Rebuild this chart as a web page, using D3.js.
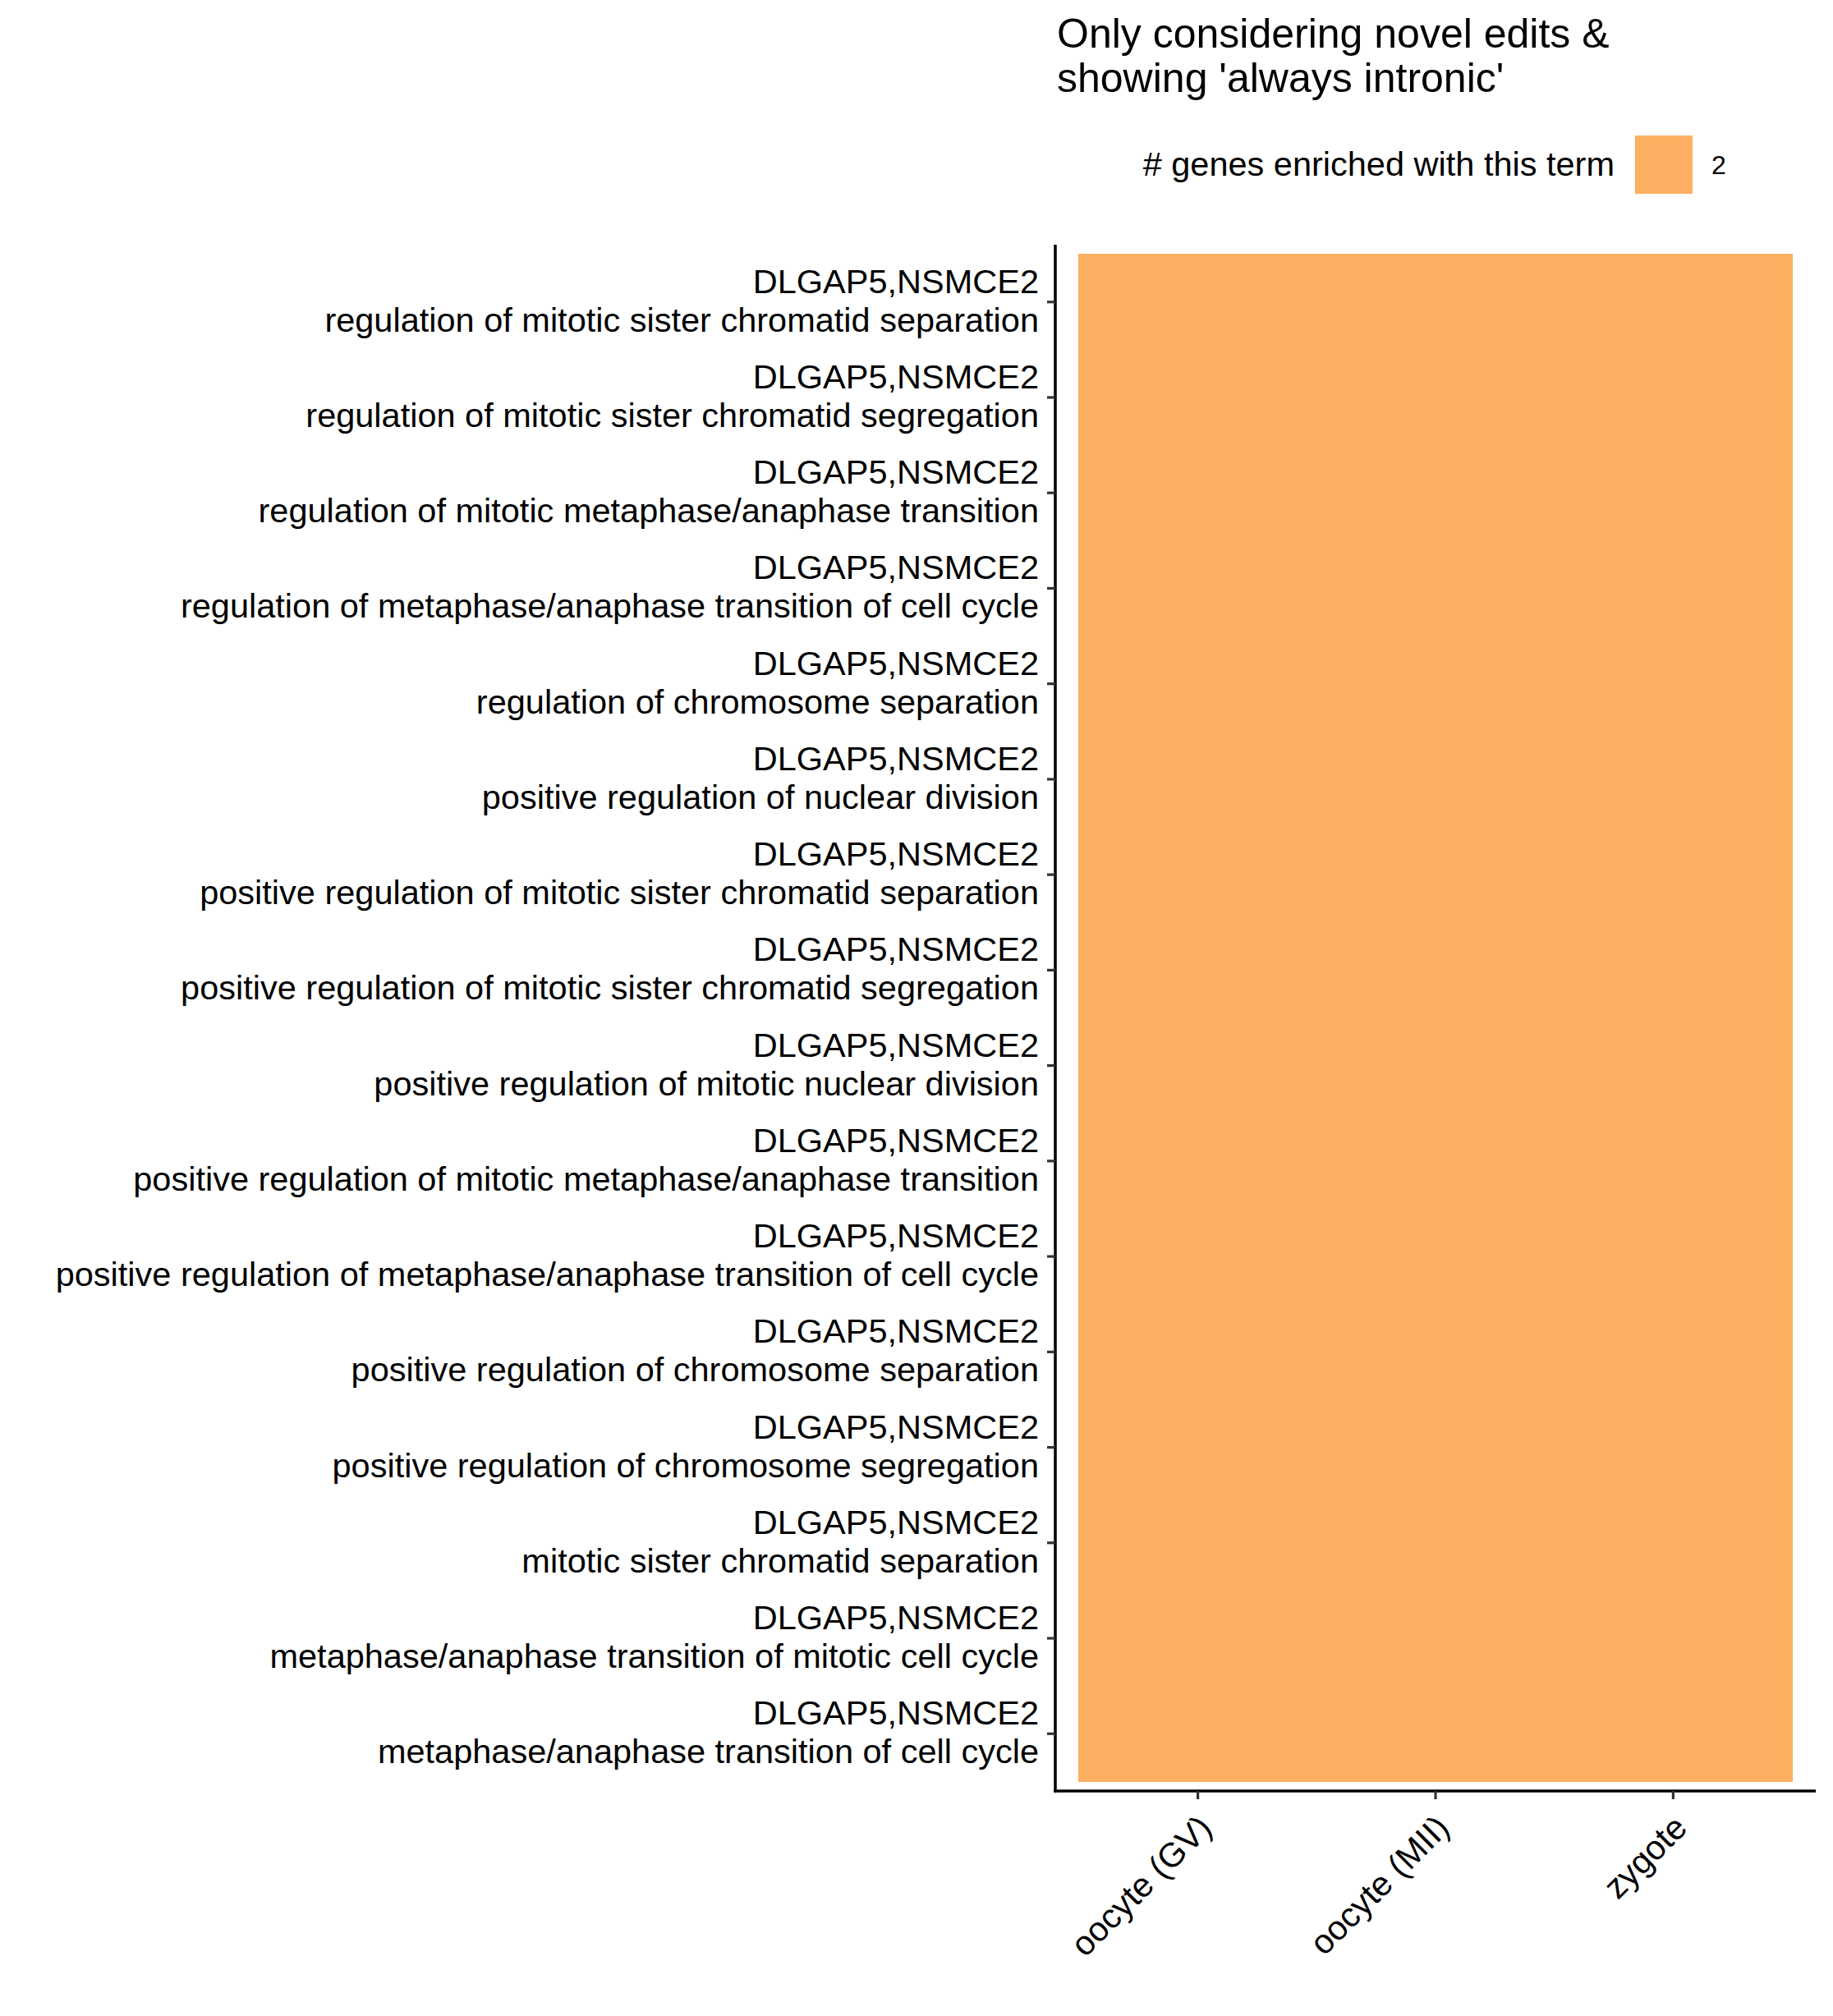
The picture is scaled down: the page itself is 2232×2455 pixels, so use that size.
<!DOCTYPE html>
<html>
<head>
<meta charset="utf-8">
<script src="https://cdn.jsdelivr.net/npm/d3@7"></script>
<style>
  html, body { margin: 0; padding: 0; background: #ffffff; }
  svg { display: block; }
  text { font-family: "Liberation Sans", Arial, Helvetica, sans-serif; fill: #000; }
</style>
</head>
<body>
<script>
// ---- data ----
const stages = ["oocyte (GV)", "oocyte (MII)", "zygote"];
const terms = [
  "regulation of mitotic sister chromatid separation",
  "regulation of mitotic sister chromatid segregation",
  "regulation of mitotic metaphase/anaphase transition",
  "regulation of metaphase/anaphase transition of cell cycle",
  "regulation of chromosome separation",
  "positive regulation of nuclear division",
  "positive regulation of mitotic sister chromatid separation",
  "positive regulation of mitotic sister chromatid segregation",
  "positive regulation of mitotic nuclear division",
  "positive regulation of mitotic metaphase/anaphase transition",
  "positive regulation of metaphase/anaphase transition of cell cycle",
  "positive regulation of chromosome separation",
  "positive regulation of chromosome segregation",
  "mitotic sister chromatid separation",
  "metaphase/anaphase transition of mitotic cell cycle",
  "metaphase/anaphase transition of cell cycle"
];
const termGenes = [
  "DLGAP5,NSMCE2", "DLGAP5,NSMCE2", "DLGAP5,NSMCE2", "DLGAP5,NSMCE2",
  "DLGAP5,NSMCE2", "DLGAP5,NSMCE2", "DLGAP5,NSMCE2", "DLGAP5,NSMCE2",
  "DLGAP5,NSMCE2", "DLGAP5,NSMCE2", "DLGAP5,NSMCE2", "DLGAP5,NSMCE2",
  "DLGAP5,NSMCE2", "DLGAP5,NSMCE2", "DLGAP5,NSMCE2", "DLGAP5,NSMCE2"
];
// number of genes enriched, per term (rows) x stage (columns)
const geneCounts = [
  [2, 2, 2], [2, 2, 2], [2, 2, 2], [2, 2, 2],
  [2, 2, 2], [2, 2, 2], [2, 2, 2], [2, 2, 2],
  [2, 2, 2], [2, 2, 2], [2, 2, 2], [2, 2, 2],
  [2, 2, 2], [2, 2, 2], [2, 2, 2], [2, 2, 2]
];
const legendValues = [2];
const titleLines = ["Only considering novel edits &", "showing 'always intronic'"];
const legendTitle = "# genes enriched with this term";

// ---- layout ----
const W = 2232, H = 2455;
const panel = { left: 1285, right: 2211, top: 298, bottom: 2181 };

const svg = d3.select("body").append("svg")
  .attr("width", W).attr("height", H)
  .attr("viewBox", `0 0 ${W} ${H}`);

const color = d3.scaleOrdinal().domain(legendValues).range(["#FDB062"]);

const x = d3.scaleBand().domain(stages)
  .range([panel.left, panel.right]).paddingInner(0).paddingOuter(0.1);
const rowKeys = terms.map((t, i) => i);
const y = d3.scaleBand().domain(rowKeys)
  .range([panel.top, panel.bottom]).paddingInner(0).paddingOuter(0.1);

// tiles
const cells = [];
terms.forEach((t, i) => stages.forEach((s, j) => cells.push({ row: i, stage: s, v: geneCounts[i][j] })));
svg.append("g").selectAll("rect").data(cells).join("rect")
  .attr("x", d => Math.floor(x(d.stage)))
  .attr("y", d => Math.floor(y(d.row)))
  .attr("width", d => Math.ceil(x(d.stage) + x.bandwidth()) - Math.floor(x(d.stage)))
  .attr("height", d => Math.ceil(y(d.row) + y.bandwidth()) - Math.floor(y(d.row)))
  .attr("fill", d => color(d.v))
  .attr("shape-rendering", "crispEdges");

// y axis
const yAxis = d3.axisLeft(y).tickSize(10).tickPadding(10).tickFormat(() => "");
const gy = svg.append("g").attr("transform", `translate(${panel.left},0)`).call(yAxis);
gy.select(".domain").attr("stroke", "#000").attr("stroke-width", 3.5)
  .attr("d", `M0,${panel.top}V${panel.bottom + 1.75}`);
gy.selectAll(".tick line").attr("stroke", "#333").attr("stroke-width", 3.2);
gy.selectAll(".tick text").remove();
gy.selectAll(".tick").each(function(d) {
  const t = d3.select(this).append("text")
    .attr("text-anchor", "end")
    .attr("font-size", 41.5)
    .attr("x", -20);
  t.append("tspan").attr("x", -20).attr("y", -11).text(termGenes[d]);
  t.append("tspan").attr("x", -20).attr("y", 36).text(terms[d]);
});

// x axis
const xAxis = d3.axisBottom(x).tickSize(10).tickPadding(0).tickFormat(() => "");
const gx = svg.append("g").attr("transform", `translate(0,${panel.bottom})`).call(xAxis);
gx.select(".domain").attr("stroke", "#000").attr("stroke-width", 3.5)
  .attr("d", `M${panel.left - 1.75},0H${panel.right}`);
gx.selectAll(".tick line").attr("stroke", "#333").attr("stroke-width", 3.2);
gx.selectAll(".tick text").remove();
gx.selectAll(".tick").append("text")
  .attr("text-anchor", "end")
  .attr("font-size", 41.5)
  .attr("transform", "translate(-2,26) rotate(-45)")
  .attr("dy", "0.72em")
  .text(d => d);

// title
const title = svg.append("text").attr("font-size", 50).attr("x", 1287);
titleLines.forEach((l, i) => title.append("tspan").attr("x", 1287).attr("y", 58 + i * 54).text(l));

// legend
const lg = svg.append("g");
lg.append("text").attr("x", 1966).attr("y", 214).attr("text-anchor", "end")
  .attr("font-size", 41.5).text(legendTitle);
lg.selectAll("rect").data(legendValues).join("rect")
  .attr("x", 1991).attr("y", 165).attr("width", 70).attr("height", 71)
  .attr("fill", d => color(d));
lg.selectAll("text.lab").data(legendValues).join("text").attr("class", "lab")
  .attr("x", 2084).attr("y", 212).attr("font-size", 32).text(d => d);
</script>
</body>
</html>
